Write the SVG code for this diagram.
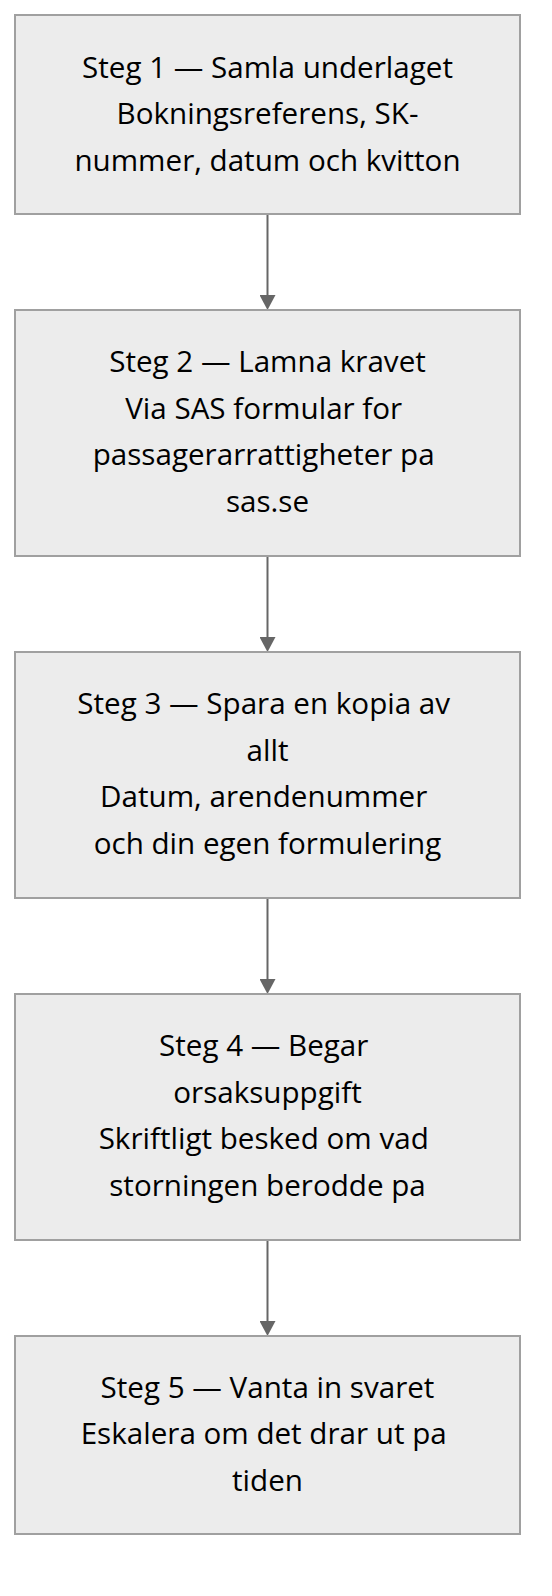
<svg xmlns="http://www.w3.org/2000/svg" width="552" height="1596" viewBox="0 0 552 1596">
  <style>
    .box { fill: #ececec; stroke: #a0a0a0; stroke-width: 2; }
    .lbl { font-family: "Open Sans", "DejaVu Sans", sans-serif; font-size: 29.6px; fill: #000; text-anchor: middle; }
    .edge { stroke: #666; stroke-width: 2; fill: none; }
  </style>
  <defs>
    <marker id="arrow" markerUnits="userSpaceOnUse" viewBox="0 0 15 16" refX="0" refY="8" markerWidth="15" markerHeight="16" orient="auto">
      <path d="M0,0 L15,8 L0,16 z" fill="#666"/>
    </marker>
  </defs>
  <rect width="552" height="1596" fill="#fff"/>

  <g id="connectors">
    <line class="edge" x1="267.5" y1="215" x2="267.5" y2="295" marker-end="url(#arrow)"/>
    <line class="edge" x1="267.5" y1="557" x2="267.5" y2="637" marker-end="url(#arrow)"/>
    <line class="edge" x1="267.5" y1="899" x2="267.5" y2="979" marker-end="url(#arrow)"/>
    <line class="edge" x1="267.5" y1="1241" x2="267.5" y2="1321" marker-end="url(#arrow)"/>
  </g>

  <g id="step1">
    <rect class="box" x="15" y="15" width="505" height="199"/>
    <text class="lbl" x="267.5" y="77.5">Steg 1 — Samla underlaget</text>
    <text class="lbl" x="267.5" y="124">Bokningsreferens, SK-</text>
    <text class="lbl" x="267.5" y="170.5">nummer, datum och kvitton</text>
  </g>

  <g id="step2">
    <rect class="box" x="15" y="310" width="505" height="246"/>
    <text class="lbl" x="267.5" y="372">Steg 2 — Lamna kravet</text>
    <text class="lbl" x="263.7" y="418.5">Via SAS formular for</text>
    <text class="lbl" x="263.7" y="465">passagerarrattigheter pa</text>
    <text class="lbl" x="267.5" y="511.5">sas.se</text>
  </g>

  <g id="step3">
    <rect class="box" x="15" y="652" width="505" height="246"/>
    <text class="lbl" x="263.7" y="714">Steg 3 — Spara en kopia av</text>
    <text class="lbl" x="267.5" y="760.5">allt</text>
    <text class="lbl" x="263.7" y="807">Datum, arendenummer</text>
    <text class="lbl" x="267.5" y="853.5">och din egen formulering</text>
  </g>

  <g id="step4">
    <rect class="box" x="15" y="994" width="505" height="246"/>
    <text class="lbl" x="263.7" y="1056">Steg 4 — Begar</text>
    <text class="lbl" x="267.5" y="1102.5">orsaksuppgift</text>
    <text class="lbl" x="263.7" y="1149">Skriftligt besked om vad</text>
    <text class="lbl" x="267.5" y="1195.5">storningen berodde pa</text>
  </g>

  <g id="step5">
    <rect class="box" x="15" y="1336" width="505" height="198"/>
    <text class="lbl" x="267.5" y="1397.5">Steg 5 — Vanta in svaret</text>
    <text class="lbl" x="263.7" y="1444">Eskalera om det drar ut pa</text>
    <text class="lbl" x="267.5" y="1490.5">tiden</text>
  </g>
</svg>
